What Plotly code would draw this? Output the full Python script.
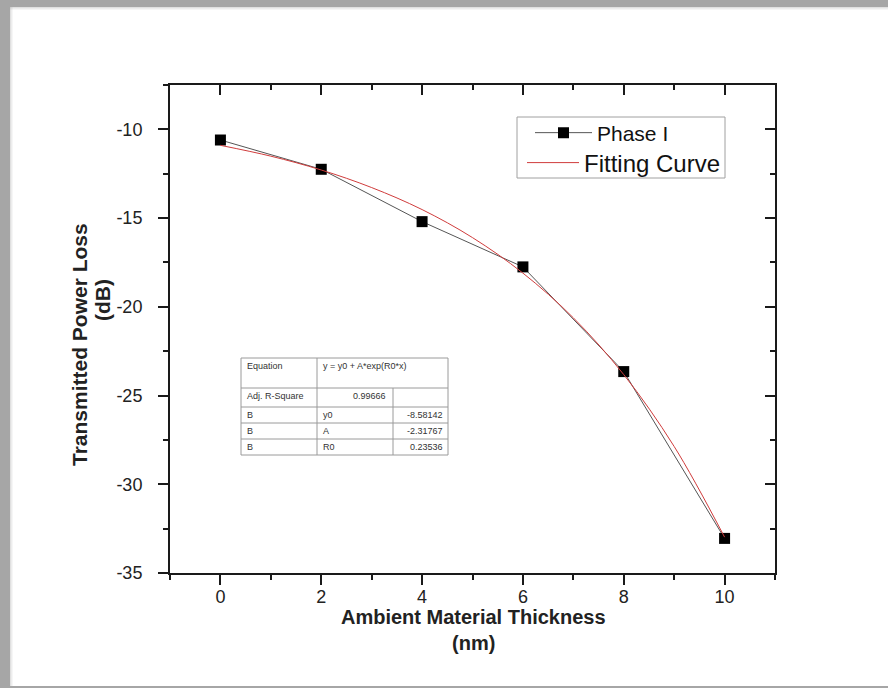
import plotly.graph_objects as go

# ---------------- data ----------------
thickness = [0, 2, 4, 6, 8, 10]
phase1 = [-10.6, -12.25, -15.2, -17.75, -23.65, -33.05]

fit_x = [0, 1, 2, 3, 4, 5, 6, 7, 8, 9, 10]
fit_y = [-10.90, -11.51, -12.29, -13.28, -14.52, -16.10, -18.10, -20.62, -23.82, -27.87, -32.98]

x_ticks = [0, 2, 4, 6, 8, 10]
x_tick_labels = ["0", "2", "4", "6", "8", "10"]
y_ticks = [-35, -30, -25, -20, -15, -10]
y_tick_labels = ["-35", "-30", "-25", "-20", "-15", "-10"]

table_rows = [
    ["Equation", "y = y0 + A*exp(R0*x)", ""],
    ["Adj. R-Square", "0.99666", ""],
    ["B", "y0", "-8.58142"],
    ["B", "A", "-2.31767"],
    ["B", "R0", "0.23536"],
]

# ---------------- layout geometry (pixels) ----------------
W, H = 888, 688
L, R, T, B = 170, 775, 85, 573
pw, ph = R - L, B - T


def px(x):
    return (x - L) / pw


def py(y):
    return (B - y) / ph


FONT = "Liberation Sans, Arial, sans-serif"
AX = "#1a1a1a"
FRAME = "#a6a6a6"

fig = go.Figure()

fig.add_trace(go.Scatter(
    x=thickness, y=phase1, name="Phase I", mode="lines+markers",
    line=dict(color="#555555", width=1),
    marker=dict(symbol="square", size=11, color="black"),
    legend="legend",
))
fig.add_trace(go.Scatter(
    x=fit_x, y=fit_y, name="Fitting Curve", mode="lines",
    line=dict(color="#d03c3c", width=1, shape="spline"),
    legend="legend2",
))
# invisible trace for the mirrored top/right axes
fig.add_trace(go.Scatter(x=[None], y=[None], xaxis="x2", yaxis="y2",
                         showlegend=False, hoverinfo="skip"))

common = dict(showline=True, linecolor=AX, linewidth=2, showgrid=False,
              zeroline=False, tickcolor=AX, tickwidth=1.5, ticklen=10)
tickfont = dict(size=18, color="#222222", family=FONT)

fig.update_layout(
    width=W, height=H,
    margin=dict(l=L, r=W - R, t=T, b=H - B, pad=0),
    paper_bgcolor="white", plot_bgcolor="white",
    font=dict(family=FONT, color="#222222"),
    xaxis=dict(range=[-1, 11], tickvals=x_ticks, ticktext=x_tick_labels,
               ticks="outside", tickfont=tickfont, ticklabelstandoff=-4,
               minor=dict(dtick=1, tick0=-1, ticks="outside", ticklen=5,
                          tickcolor=AX, tickwidth=1.5),
               **common),
    yaxis=dict(range=[-35, -7.5], tickvals=y_ticks, ticktext=y_tick_labels,
               ticks="outside", tickfont=tickfont, ticklabelstandoff=12,
               minor=dict(dtick=2.5, tick0=-35, ticks="outside", ticklen=5,
                          tickcolor=AX, tickwidth=1.5),
               **common),
    xaxis2=dict(range=[-1, 11], tickvals=x_ticks, ticks="inside",
                showticklabels=False, overlaying="x", side="top", anchor="y2",
                minor=dict(dtick=1, tick0=-1, ticks="inside", ticklen=5,
                           tickcolor=AX, tickwidth=1.5),
                **common),
    yaxis2=dict(range=[-35, -7.5], tickvals=y_ticks, ticks="inside",
                showticklabels=False, overlaying="y", side="right", anchor="x2",
                minor=dict(dtick=2.5, tick0=-35, ticks="inside", ticklen=5,
                           tickcolor=AX, tickwidth=1.5),
                **common),
    legend=dict(x=px(530), y=py(133), xanchor="left", yanchor="middle",
                borderwidth=0, bgcolor="rgba(0,0,0,0)",
                font=dict(size=21, color="#111111", family=FONT), itemwidth=57),
    legend2=dict(x=px(522), y=py(163), xanchor="left", yanchor="middle",
                 borderwidth=0, bgcolor="rgba(0,0,0,0)",
                 font=dict(size=24, color="#111111", family=FONT), itemwidth=52),
    showlegend=True,
)

shapes = []
# grey frame (top, left, bottom) with a soft inner edge


def frame_rect(x0, x1, y0, y1, color=FRAME, op=1.0):
    return dict(type="rect", xref="paper", yref="paper",
                x0=px(x0), x1=px(x1), y0=py(y0), y1=py(y1),
                fillcolor=color, opacity=op, line=dict(width=0), layer="below")


shapes.append(frame_rect(0, W, 0, 7))        # top
shapes.append(frame_rect(0, 10, 0, H))       # left
shapes.append(frame_rect(0, W, 686, H))      # bottom
for i, op in enumerate([0.35, 0.2, 0.1]):
    shapes.append(frame_rect(10 + i, 11 + i, 7, 686, op=op))
    shapes.append(frame_rect(10, W, 7 + i, 8 + i, op=op))

# legend box
shapes.append(dict(type="rect", xref="paper", yref="paper",
                   x0=px(517), x1=px(725), y0=py(117), y1=py(178),
                   fillcolor="rgba(0,0,0,0)", line=dict(color="#a0a0a0", width=1)))

# table
tl, tc1, tc2, tr = 241, 317, 393, 448
row_lines = [358, 388, 407, 423, 439, 455]
gc = "#9a9a9a"
shapes.append(dict(type="rect", xref="paper", yref="paper",
                   x0=px(tl), x1=px(tr), y0=py(row_lines[0]), y1=py(row_lines[-1]),
                   fillcolor="white", line=dict(color=gc, width=1)))
for yl in row_lines[1:-1]:
    shapes.append(dict(type="line", xref="paper", yref="paper",
                       x0=px(tl), x1=px(tr), y0=py(yl), y1=py(yl),
                       line=dict(color=gc, width=1)))
shapes.append(dict(type="line", xref="paper", yref="paper",
                   x0=px(tc1), x1=px(tc1), y0=py(row_lines[0]), y1=py(row_lines[-1]),
                   line=dict(color=gc, width=1)))
shapes.append(dict(type="line", xref="paper", yref="paper",
                   x0=px(tc2), x1=px(tc2), y0=py(row_lines[1]), y1=py(row_lines[-1]),
                   line=dict(color=gc, width=1)))

annotations = []
tfont = dict(size=9, color="#333333", family=FONT)
for r, row in enumerate(table_rows):
    top = row_lines[r]
    yc = top + 8
    annotations.append(dict(text=row[0], xref="paper", yref="paper",
                            x=px(tl + 4), y=py(yc), xanchor="left", yanchor="middle",
                            showarrow=False, font=tfont))
    if r == 0:
        annotations.append(dict(text=row[1], xref="paper", yref="paper",
                                x=px(tc1 + 4), y=py(yc), xanchor="left", yanchor="middle",
                                showarrow=False, font=tfont))
    elif r == 1:
        annotations.append(dict(text=row[1], xref="paper", yref="paper",
                                x=px(tc2 - 5), y=py(yc), xanchor="right", yanchor="middle",
                                showarrow=False, font=tfont))
    else:
        annotations.append(dict(text=row[1], xref="paper", yref="paper",
                                x=px(tc1 + 4), y=py(yc), xanchor="left", yanchor="middle",
                                showarrow=False, font=tfont))
        annotations.append(dict(text=row[2], xref="paper", yref="paper",
                                x=px(tr - 3), y=py(yc), xanchor="right", yanchor="middle",
                                showarrow=False, font=tfont))

# axis titles
tf = dict(size=20, color="#222222", family=FONT)
tfy = dict(size=21, color="#222222", family=FONT)
annotations += [
    dict(text="<b>Ambient Material Thickness</b>", xref="paper", yref="paper",
         x=px(473), y=py(617), xanchor="center", yanchor="middle", showarrow=False, font=tf),
    dict(text="<b>(nm)</b>", xref="paper", yref="paper",
         x=px(473), y=py(643), xanchor="center", yanchor="middle", showarrow=False, font=tf),
    dict(text="<b>Transmitted Power Loss</b>", xref="paper", yref="paper",
         x=px(79), y=py(345), xanchor="center", yanchor="middle", textangle=-90,
         showarrow=False, font=tfy),
    dict(text="<b>(dB)</b>", xref="paper", yref="paper",
         x=px(102), y=py(300), xanchor="center", yanchor="middle", textangle=-90,
         showarrow=False, font=tfy),
]

fig.update_layout(shapes=shapes, annotations=annotations)
fig.write_html("out.html", config={"displayModeBar": False},
               post_script="document.body.style.margin='0';document.body.style.overflow='hidden';")
